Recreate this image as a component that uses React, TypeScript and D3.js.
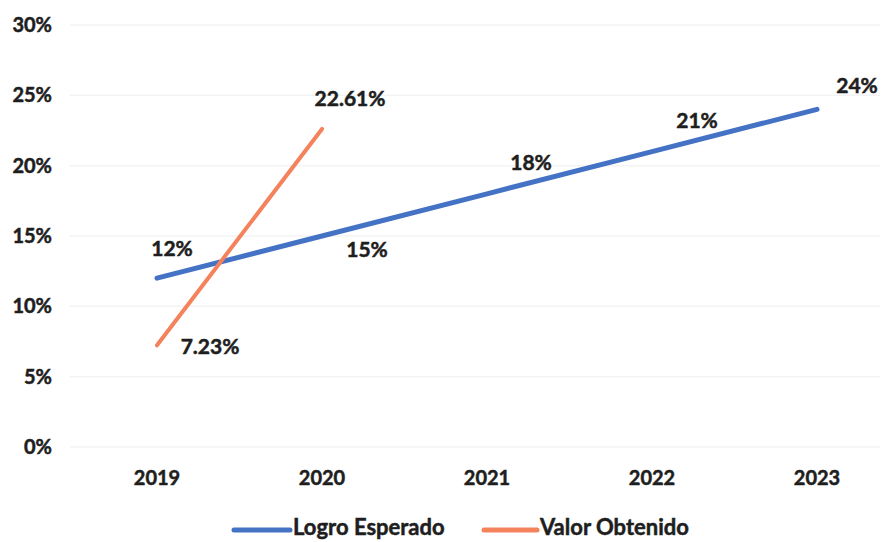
import React from "react";
import * as d3 from "d3";

const years = ["2019", "2020", "2021", "2022", "2023"];
const logroEsperado = [0.12, 0.15, 0.18, 0.21, 0.24];
const logroLabels = ["12%", "15%", "18%", "21%", "24%"];
const valorYears = ["2019", "2020"];
const valorObtenido = [0.0723, 0.2261];
const valorLabels = ["7.23%", "22.61%"];
const yTicks = [0, 0.05, 0.1, 0.15, 0.2, 0.25, 0.3];
const yTickLabels = ["0%", "5%", "10%", "15%", "20%", "25%", "30%"];

const W = 881, H = 542;
const FONT = "Lato, 'Open Sans', sans-serif";
const BLUE = "#4472c4";
const ORANGE = "#f4825c";
const INK = "#1e1e1e";

export default function App() {
  const x = d3.scalePoint<string>().domain(years).range([157, 817]);
  const y = d3.scaleLinear().domain([0, 0.3]).range([447, 25]);
  const line = d3.line<[string, number]>().x(d => x(d[0])!).y(d => y(d[1]));
  const blueData: [string, number][] = years.map((yr, i) => [yr, logroEsperado[i]]);
  const orangeData: [string, number][] = valorYears.map((yr, i) => [yr, valorObtenido[i]]);
  const blueOff: [number, number][] = [[15, -30], [45, 14], [44, -31], [45, -31], [40, -24]];
  const orangeOff: [number, number][] = [[53, 1], [28, -30]];
  const txt = { fontFamily: FONT, fontWeight: 700, fill: INK, stroke: INK, strokeWidth: 0.5 } as const;
  return (
    <svg width={W} height={H} style={{ position: "absolute", left: 0, top: 0, background: "#fff" }}>
      {yTicks.map((t, i) => (
        <g key={i}>
          <line x1={70} x2={880} y1={y(t)} y2={y(t)} stroke="#f3f3f3" strokeWidth={1.5} />
          <text x={52} y={y(t)} dy="0.35em" textAnchor="end" fontSize={20} {...txt}>
            {yTickLabels[i]}
          </text>
        </g>
      ))}
      {years.map(yr => (
        <text key={yr} x={x(yr)!} y={478} dy="0.35em" textAnchor="middle" fontSize={20} {...txt}>
          {yr}
        </text>
      ))}
      <path d={line(blueData)!} fill="none" stroke={BLUE} strokeWidth={5} strokeLinecap="round" />
      <path d={line(orangeData)!} fill="none" stroke={ORANGE} strokeWidth={4} strokeLinecap="round" />
      {blueData.map((d, i) => (
        <text key={i} x={x(d[0])! + blueOff[i][0]} y={y(d[1]) + blueOff[i][1]} dy="0.35em" textAnchor="middle" fontSize={21} {...txt}>
          {logroLabels[i]}
        </text>
      ))}
      {orangeData.map((d, i) => (
        <text key={i} x={x(d[0])! + orangeOff[i][0]} y={y(d[1]) + orangeOff[i][1]} dy="0.35em" textAnchor="middle" fontSize={21} {...txt}>
          {valorLabels[i]}
        </text>
      ))}
      <g>
        <line x1={234} x2={290} y1={530} y2={530} stroke={BLUE} strokeWidth={5} strokeLinecap="round" />
        <text x={293} y={527} dy="0.35em" fontSize={22} {...txt}>Logro Esperado</text>
        <line x1={484} x2={537} y1={530} y2={530} stroke={ORANGE} strokeWidth={5} strokeLinecap="round" />
        <text x={540} y={527} dy="0.35em" fontSize={22} {...txt}>Valor Obtenido</text>
      </g>
    </svg>
  );
}
